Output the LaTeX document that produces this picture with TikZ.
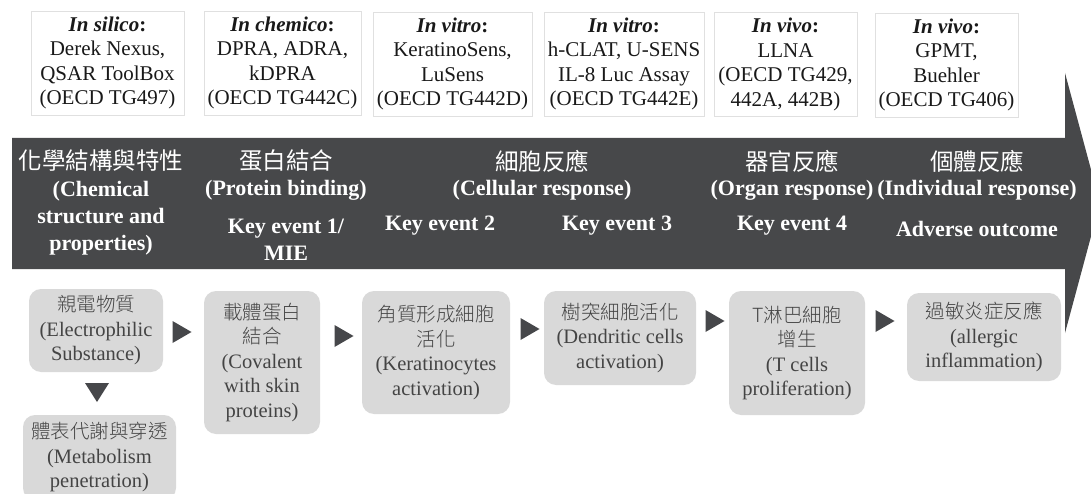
\documentclass[tikz,border=0pt]{standalone}
\usepackage{fontspec}
\setmainfont{Liberation Serif}
\newfontfamily\cjk{Noto Sans CJK TC}
% thinner face for the Chinese inside the grey boxes, when it is installed
\IfFontExistsTF{Noto Sans CJK TC Light}
  {\newfontfamily\cjkthin{Noto Sans CJK TC Light}}
  {\newfontfamily\cjkthin{Noto Sans CJK TC}}
\usetikzlibrary{calc}

\definecolor{bannergray}{HTML}{47484A}
\definecolor{boxgray}{HTML}{D9D9D9}
\definecolor{boxtext}{HTML}{444444}
\definecolor{framegray}{HTML}{E0E0E0}
\definecolor{markgray}{HTML}{46474A}

% Chinese line inside the grey event boxes
\newcommand\zhtxt[1]{{\cjkthin\fontsize{19.5}{24.5}\selectfont #1}}

\tikzset{
  rightmark/.pic={\fill[markgray] (-9.5,-11) -- (9.5,0) -- (-9.5,11) -- cycle;},
  downmark/.pic={\fill[markgray] (-12,-9) -- (12,-9) -- (0,10) -- cycle;}
}

\begin{document}
\begin{tikzpicture}[x=1pt,y=-1pt,
  method/.style={draw=framegray, line width=0.8pt, fill=white, inner sep=0pt,
    align=center, minimum height=104pt, text=black!90,
    font=\fontsize{21}{24.5}\selectfont},
  bannertext/.style={text=white, align=center, inner sep=0pt,
    font=\bfseries\fontsize{22}{27}\selectfont},
  bannercjk/.style={text=white, inner sep=0pt, font=\cjk\fontsize{23.5}{27}\selectfont},
  event/.style={fill=boxgray, rounded corners=12pt, inner sep=0pt, align=center,
    text=boxtext, font=\fontsize{20.5}{24.5}\selectfont}
]
\useasboundingbox (0,0) rectangle (1091,494);

% test methods
\node[method, minimum width=153pt] (m1) at (107.5,63)
  {\textbf{\textit{In silico}:}\\Derek Nexus,\\QSAR ToolBox\\(OECD TG497)};
\node[method, minimum width=157pt] (m2) at (282.5,63)
  {\textbf{\textit{In chemico}:}\\DPRA, ADRA,\\kDPRA\\(OECD TG442C)};
\node[method, minimum width=159pt] (m3) at (452.5,64)
  {\textbf{\textit{In vitro}:}\\KeratinoSens,\\LuSens\\(OECD TG442D)};
\node[method, minimum width=160pt] (m4) at (624,64)
  {\textbf{\textit{In vitro}:}\\h-CLAT, U-SENS\\IL-8 Luc Assay\\(OECD TG442E)};
\node[method, minimum width=143pt] (m5) at (785.5,64.5)
  {\textbf{\textit{In vivo}:}\\LLNA\\(OECD TG429,\\442A, 442B)};
\node[method, minimum width=143pt] (m6) at (946.5,65)
  {\textbf{\textit{In vivo}:}\\GPMT,\\Buehler\\(OECD TG406)};

% pathway banner
\fill[bannergray] (12,138) -- (1065,138) -- (1065,73) -- (1100,203)
  -- (1065,333) -- (1065,269) -- (12,269) -- cycle;

\node[bannercjk] (l1zh) at (101,161) {化學結構與特性};
\node[bannertext] (l1en) at (101,218) {(Chemical\\structure and\\properties)};

\node[bannercjk] (l2zh) at (286,161) {蛋白結合};
\node[bannertext] (l2en) at (286,190) {(Protein binding)};
\node[bannertext] (ke1) at (286,239.5) {Key event 1/\\MIE};

\node[bannercjk] (l3zh) at (542,161) {細胞反應};
\node[bannertext] (l3en) at (542,190) {(Cellular response)};
\node[bannertext] (ke2) at (440,226) {Key event 2};
\node[bannertext] (ke3) at (617,226) {Key event 3};

\node[bannercjk] (l4zh) at (792,161) {器官反應};
\node[bannertext] (l4en) at (792,190) {(Organ response)};
\node[bannertext] (ke4) at (792,226) {Key event 4};

\node[bannercjk] (l5zh) at (977,161) {個體反應};
\node[bannertext] (l5en) at (977,190) {(Individual response)};
\node[bannertext] (ao) at (977,229) {Adverse outcome};

% key events
\node[event, minimum width=134pt, minimum height=83pt] (ea) at (96,330.5)
  {\zhtxt{親電物質}\\(Electrophilic\\Substance)};
\node[event, minimum width=153pt, minimum height=85pt] (ea2) at (99.5,457.5)
  {\zhtxt{體表代謝與穿透}\\(Metabolism\\penetration)};
\node[event, minimum width=116pt, minimum height=143pt] (eb) at (262,362.5)
  {\zhtxt{載體蛋白}\\\zhtxt{結合}\\(Covalent\\with skin\\proteins)};
\node[event, minimum width=148pt, minimum height=123pt] (ec) at (436,352.5)
  {\zhtxt{角質形成細胞}\\\zhtxt{活化}\\(Keratinocytes\\activation)};
\node[event, minimum width=152pt, minimum height=94pt] (ed) at (620,338)
  {\zhtxt{樹突細胞活化}\\(Dendritic cells\\activation)};
\node[event, minimum width=136pt, minimum height=124pt] (ee) at (797,353)
  {\zhtxt{T淋巴細胞}\\\zhtxt{增生}\\(T cells\\proliferation)};
\node[event, minimum width=154pt, minimum height=88pt] (ef) at (984,337)
  {\zhtxt{過敏炎症反應}\\(allergic\\inflammation)};

% step markers between events
\coordinate (t0) at (97,392);
\coordinate (t1) at (182,332);
\coordinate (t2) at (344,336);
\coordinate (t3) at (530,329);
\coordinate (t4) at (715,321);
\coordinate (t5) at (885,321);
\pic at (t0) {downmark};
\pic at (t1) {rightmark};
\pic at (t2) {rightmark};
\pic at (t3) {rightmark};
\pic at (t4) {rightmark};
\pic at (t5) {rightmark};
\end{tikzpicture}
\end{document}
